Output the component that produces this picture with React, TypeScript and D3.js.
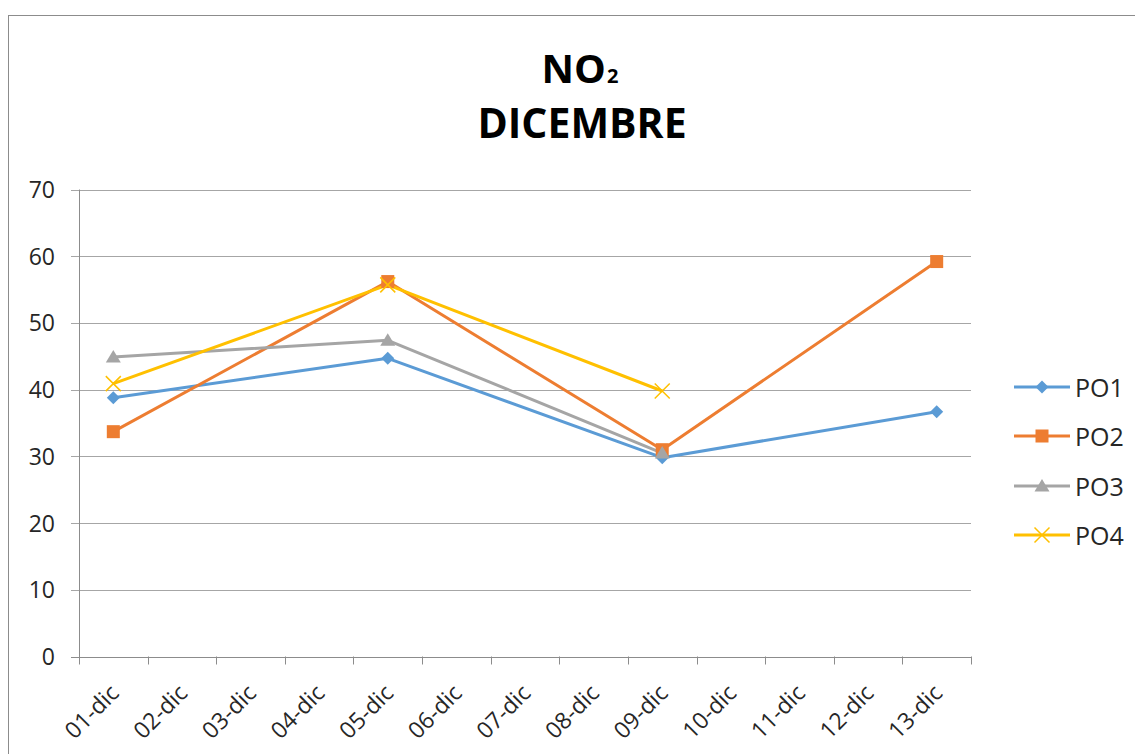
import React from "react";
import * as d3 from "d3";

const categories = ["01-dic","02-dic","03-dic","04-dic","05-dic","06-dic","07-dic","08-dic","09-dic","10-dic","11-dic","12-dic","13-dic"];
const yTicks = [0,10,20,30,40,50,60,70];
const seriesNames = ["PO1","PO2","PO3","PO4"];
const seriesColors = ["#5b9bd5","#ed7d31","#a5a5a5","#ffc000"];
const po1: [string, number][] = [["01-dic",38.8],["05-dic",44.7],["09-dic",29.8],["13-dic",36.7]];
const po2: [string, number][] = [["01-dic",33.7],["05-dic",56.2],["09-dic",31.0],["13-dic",59.2]];
const po3: [string, number][] = [["01-dic",44.9],["05-dic",47.4],["09-dic",30.5]];
const po4: [string, number][] = [["01-dic",40.9],["05-dic",55.7],["09-dic",39.8]];
const seriesData = [po1, po2, po3, po4];

function Marker({ i, x, y, color }: { i: number; x: number; y: number; color: string }) {
  if (i === 0) {
    const r = 6.5;
    return <path d={`M${x},${y - r}L${x + r},${y}L${x},${y + r}L${x - r},${y}Z`} fill={color} />;
  }
  if (i === 1) {
    return <rect x={x - 6.5} y={y - 6.5} width={13} height={13} fill={color} />;
  }
  if (i === 2) {
    return <path d={`M${x},${y - 7}L${x + 7.5},${y + 5.5}L${x - 7.5},${y + 5.5}Z`} fill={color} />;
  }
  const r = 7.5;
  return (
    <path d={`M${x - r},${y - r}L${x + r},${y + r}M${x - r},${y + r}L${x + r},${y - r}`} stroke={color} strokeWidth={1.5} fill="none" />
  );
}

export default function App() {
  const W = 1135, H = 754;
  const left = 79, right = 971, top = 189.5, bottom = 656.5;
  const x = d3.scaleBand().domain(categories).range([left, right]).padding(0);
  const y = d3.scaleLinear().domain([0, 70]).range([bottom, top]);
  const cx = (c: string) => (x(c) as number) + x.bandwidth() / 2;
  const line = d3.line<[string, number]>().x(d => cx(d[0])).y(d => y(d[1]));
  const font = "'Open Sans', 'Liberation Sans', sans-serif";
  const gridColor = "#a6a6a6";
  const axisColor = "#8c8c8c";
  const legendY = [387, 436, 486, 535];

  return (
    <svg width={W} height={H} style={{ position: "absolute", left: 0, top: 0 }} fontFamily={font}>
      <rect x={0} y={0} width={W} height={H} fill="#fff" />
      <rect x={8.5} y={15.5} width={W + 20} height={H + 20} fill="#fff" stroke="#8c8c8c" strokeWidth={1} />
      <text x={580} y={83} textAnchor="middle" fontSize={40} fontWeight="bold" fill="#000">
        NO<tspan fontSize={20} dx={1}>2</tspan>
      </text>
      <text x={582} y={138} textAnchor="middle" fontSize={41} fontWeight="bold" fill="#000">DICEMBRE</text>

      {yTicks.map(t => (
        <g key={t}>
          <line x1={left - 8} x2={right} y1={Math.round(y(t)) + 0.5} y2={Math.round(y(t)) + 0.5} stroke={t === 0 ? axisColor : gridColor} strokeWidth={1} />
          <text x={55} y={y(t) + 8.5} textAnchor="end" fontSize={23} fill="#262626">{t}</text>
        </g>
      ))}
      <line x1={left + 0.5} x2={left + 0.5} y1={top} y2={bottom + 8} stroke={axisColor} />
      {categories.map(c => {
        const xx = Math.round((x(c) as number) + x.bandwidth()) + 0.5;
        return <line key={c} x1={xx} x2={xx} y1={bottom} y2={bottom + 8} stroke={axisColor} />;
      })}
      {categories.map(c => (
        <text key={c} transform={`translate(${cx(c) + 7},${bottom + 38}) rotate(-45)`} textAnchor="end" fontSize={23} fill="#262626">{c}</text>
      ))}

      {seriesData.map((s, i) => (
        <path key={i} d={line(s) || ""} fill="none" stroke={seriesColors[i]} strokeWidth={3} strokeLinejoin="round" />
      ))}
      {seriesData.map((s, i) => (
        <g key={i}>
          {s.map(d => <Marker key={d[0]} i={i} x={cx(d[0])} y={y(d[1])} color={seriesColors[i]} />)}
        </g>
      ))}

      {seriesNames.map((n, i) => (
        <g key={n}>
          <line x1={1014} x2={1070} y1={legendY[i]} y2={legendY[i]} stroke={seriesColors[i]} strokeWidth={3} />
          <Marker i={i} x={1042} y={legendY[i]} color={seriesColors[i]} />
          <text x={1075} y={legendY[i] + 10} fontSize={25} fill="#262626">{n}</text>
        </g>
      ))}
    </svg>
  );
}
